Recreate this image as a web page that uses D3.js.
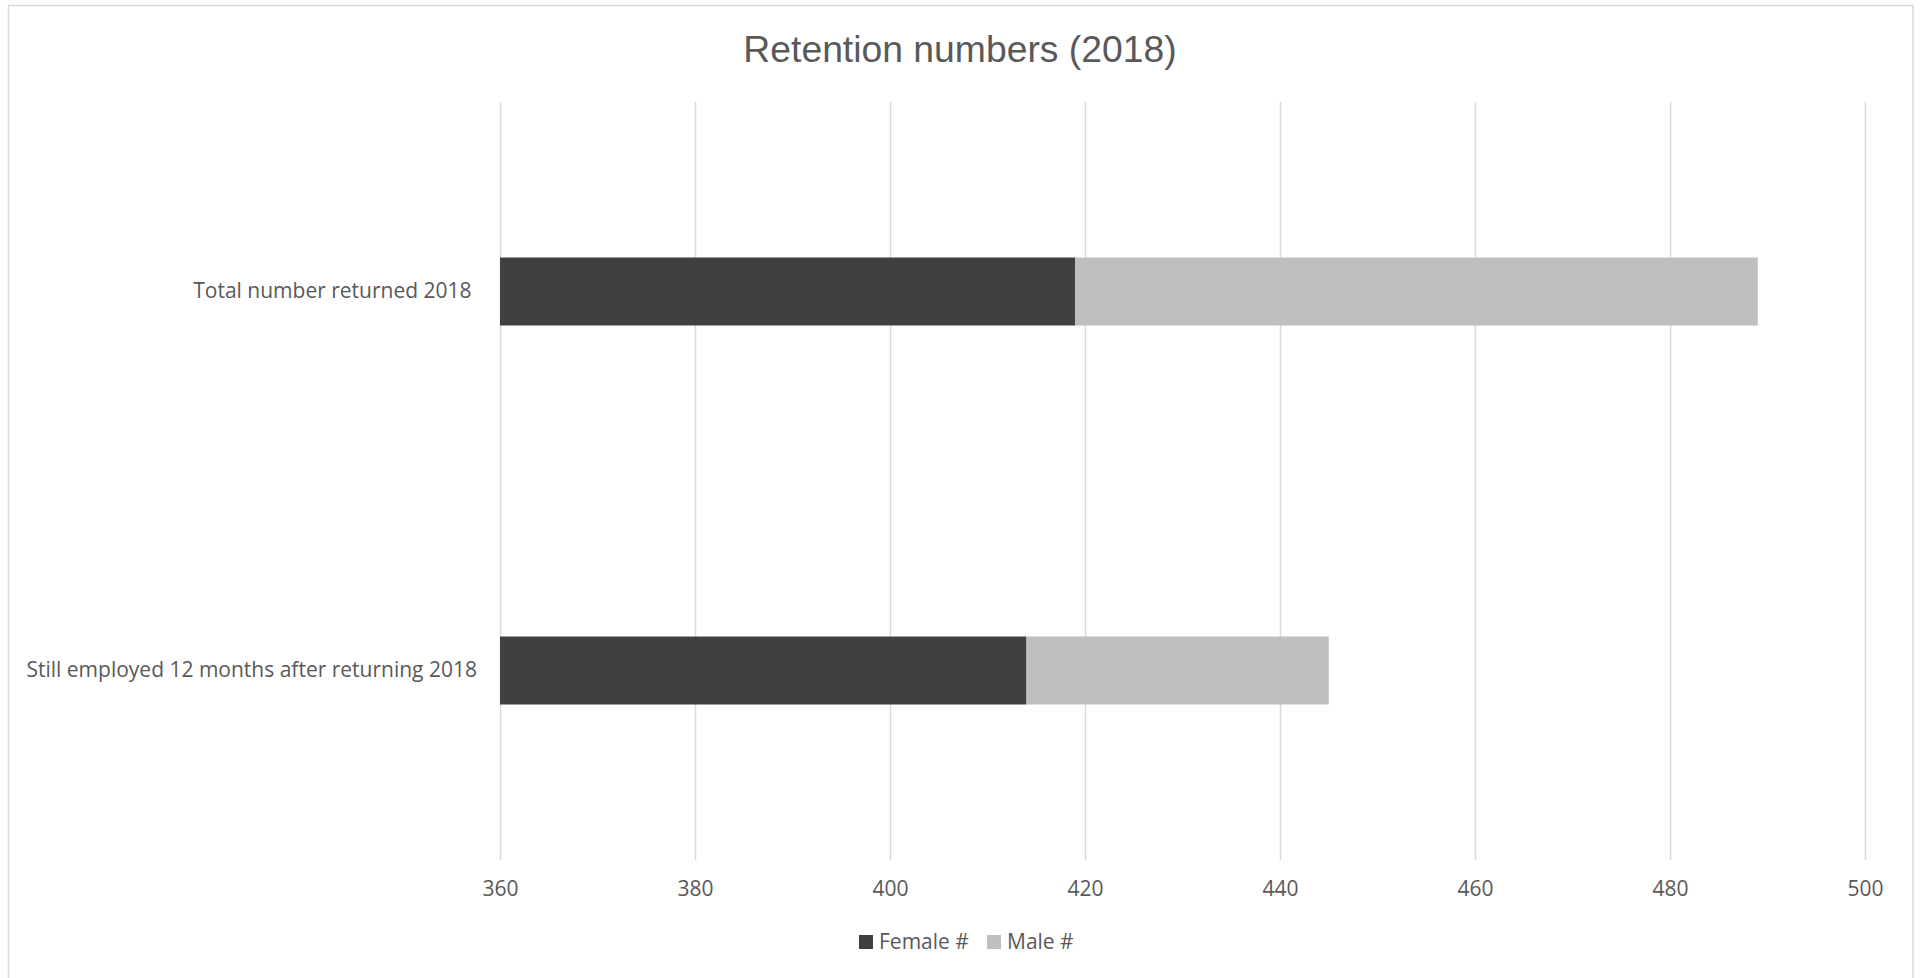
<!DOCTYPE html>
<html>
<head>
<meta charset="utf-8">
<script src="https://cdn.jsdelivr.net/npm/d3@7/dist/d3.min.js"></script>
<style>
  html, body { margin: 0; padding: 0; background: #ffffff; }
  svg { display: block; }
  .lbl { font-family: "Open Sans", sans-serif; font-size: 21px; fill: #595959; }
</style>
</head>
<body>
<svg id="chart" width="1921" height="978"></svg>
<script>
// Chart data
const categories = ["Total number returned 2018 ", "Still employed 12 months after returning 2018"];
const femaleValues = [419, 414];
const maleValues = [70, 31];
const seriesNames = ["Female #", "Male #"];
const seriesColors = ["#404040", "#bfbfbf"];
const xTickValues = [360, 380, 400, 420, 440, 460, 480, 500];
const titleText = "Retention numbers (2018)";

const svg = d3.select("#chart");

// Layout
const plot = { left: 500, right: 1865, top: 102, bottom: 860 };

// Outer chart frame
svg.append("rect")
  .attr("x", 8.5).attr("y", 5.5)
  .attr("width", 1913 - 8.5).attr("height", 1000)
  .attr("fill", "#ffffff")
  .attr("stroke", "#d9d9d9").attr("stroke-width", 1.5);

// Scales
const x = d3.scaleLinear()
  .domain([xTickValues[0], xTickValues[xTickValues.length - 1]])
  .range([plot.left, plot.right])
  .clamp(true);

const y = d3.scaleBand()
  .domain(categories)
  .range([plot.top, plot.bottom])
  .paddingInner(0.8206)
  .paddingOuter(0.4103);

// Vertical gridlines
const grid = svg.append("g")
  .attr("transform", `translate(0,${plot.bottom})`)
  .call(d3.axisBottom(x).tickValues(xTickValues).tickSize(-(plot.bottom - plot.top)).tickFormat(""));
grid.select(".domain").remove();
grid.selectAll(".tick line").attr("stroke", "#d9d9d9").attr("stroke-width", 1.5);

// Tick labels
const axis = svg.append("g")
  .attr("transform", `translate(0,${plot.bottom})`)
  .call(d3.axisBottom(x).tickValues(xTickValues).tickSize(0).tickPadding(0));
axis.select(".domain").remove();
axis.selectAll(".tick text")
  .attr("class", "lbl")
  .attr("font-family", null).attr("font-size", null)
  .attr("y", 36).attr("dy", null);

// Stacked rows
const rows = categories.map((c, i) => ({ category: c, female: femaleValues[i], male: maleValues[i] }));
const stacked = d3.stack().keys(["female", "male"])(rows);

svg.append("g").selectAll("g")
  .data(stacked)
  .join("g")
  .attr("fill", (d, i) => seriesColors[i])
  .selectAll("rect")
  .data(d => d)
  .join("rect")
  .attr("x", d => x(d[0]))
  .attr("width", d => x(d[1]) - x(d[0]))
  .attr("y", d => y(d.data.category))
  .attr("height", y.bandwidth());

// Category labels
svg.append("g").selectAll("text")
  .data(categories)
  .join("text")
  .attr("class", "lbl")
  .style("white-space", "pre")
  .attr("text-anchor", "end")
  .attr("x", 477)
  .attr("y", d => y(d) + y.bandwidth() / 2 + 6)
  .text(d => d);

// Title
svg.append("text")
  .attr("x", 960).attr("y", 62)
  .attr("text-anchor", "middle")
  .attr("font-family", "'Liberation Sans', Arial, sans-serif")
  .attr("font-size", 37.3)
  .attr("fill", "#595959")
  .text(titleText);

// Legend
const legendX = [859, 987];
const legend = svg.append("g").selectAll("g")
  .data(seriesNames)
  .join("g")
  .attr("transform", (d, i) => `translate(${legendX[i]},935)`);
legend.append("rect")
  .attr("width", 14).attr("height", 14)
  .attr("fill", (d, i) => seriesColors[i]);
legend.append("text")
  .attr("class", "lbl")
  .attr("x", 20).attr("y", 14)
  .text(d => d);
</script>
</body>
</html>
